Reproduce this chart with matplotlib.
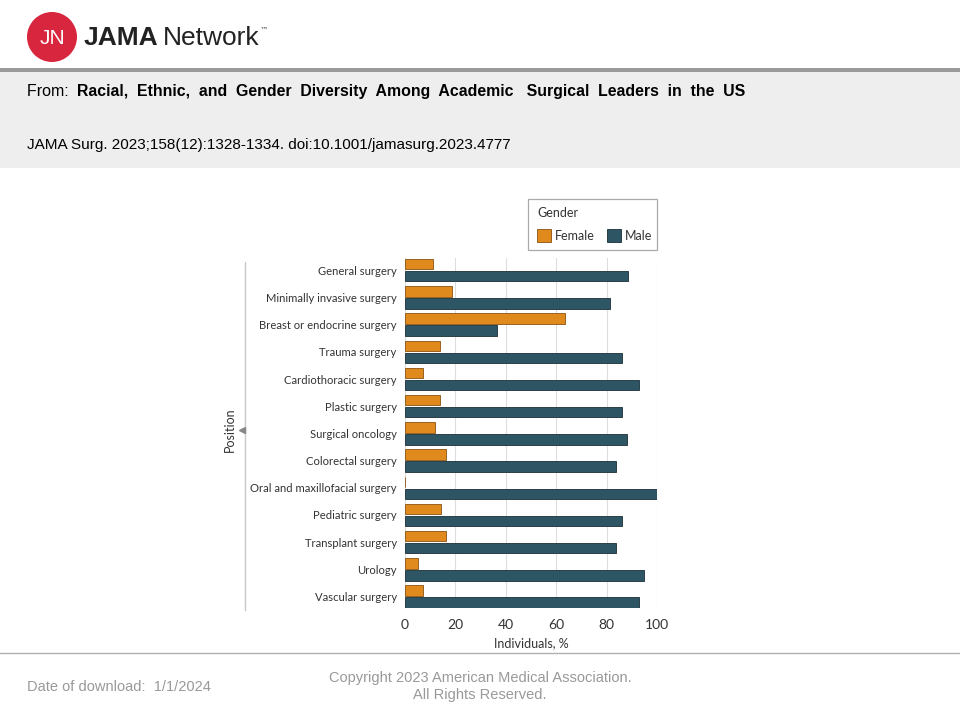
import matplotlib
matplotlib.use("Agg")
import matplotlib.pyplot as plt
from matplotlib.patches import Circle, Rectangle
import numpy as np

# data (percent of individuals)
positions = ["General surgery", "Minimally invasive surgery", "Breast or endocrine surgery",
             "Trauma surgery", "Cardiothoracic surgery", "Plastic surgery", "Surgical oncology",
             "Colorectal surgery", "Oral and maxillofacial surgery", "Pediatric surgery",
             "Transplant surgery", "Urology", "Vascular surgery"]
female = [11.1, 18.7, 63.5, 13.9, 7.1, 13.9, 11.9, 16.3, 0.0, 14.4, 16.3, 5.2, 7.0]
male = [88.5, 81.3, 36.5, 86.1, 92.9, 86.1, 88.1, 83.7, 100.0, 86.0, 83.7, 94.8, 93.0]
xticks = [0, 20, 40, 60, 80, 100]

FEM_C, FEM_E = "#e08a1e", "#8a5210"
MAL_C, MAL_E = "#2e5563", "#1a2f38"
TXT = "#333333"
CF = "Lato"  # chart font

W, H = 960, 720
fig = plt.figure(figsize=(9.6, 7.2), dpi=100)

def px(x, y):
    # pixel coords (top-left origin) -> figure fraction
    return x / W, 1 - y / H

# ---- header ----
bg = fig.add_axes([0, 0, 1, 1], zorder=0)
bg.set_xlim(0, W)
bg.set_ylim(H, 0)
bg.axis("off")
bg.add_patch(Rectangle((0, 72), W, 96, color="#eeeeee", lw=0))
bg.add_patch(Rectangle((0, 68), W, 4, color="#9a9a9a", lw=0))
bg.add_patch(Circle((52, 37), 25, color="#d7263d", lw=0))
bg.text(52, 38, "JN", color="white", fontsize=15, ha="center", va="center",
        family="Liberation Sans")
bg.text(84, 38, "JAMA", fontsize=19, fontweight="bold", ha="left", va="center",
        family="Liberation Sans", color="#222222")
bg.text(163, 38, "Network", fontsize=19, ha="left", va="center",
        family="Liberation Sans", color="#222222")
bg.text(260, 30, "™", fontsize=6, ha="left", va="center", family="DejaVu Sans", color="#444444")

bg.text(27, 96, "From: ", fontsize=11.5, ha="left", va="baseline", family="Liberation Sans")
bg.text(77, 96, "Racial,  Ethnic,  and  Gender  Diversity  Among  Academic   Surgical  Leaders  in  the  US",
        fontsize=11.4, fontweight="bold", ha="left", va="baseline", family="Liberation Sans")
bg.text(27, 145, "JAMA Surg. 2023;158(12):1328-1334. doi:10.1001/jamasurg.2023.4777",
        fontsize=11, ha="left", va="center", family="Liberation Sans")

# ---- footer ----
bg.plot([0, W], [653, 653], color="#b0b0b0", lw=1)
bg.text(27, 687, "Date of download:  1/1/2024", fontsize=10.5, ha="left", va="center",
        family="Liberation Sans", color="#999999")
bg.text(480, 678, "Copyright 2023 American Medical Association.", fontsize=10.5, ha="center",
        va="center", family="Liberation Sans", color="#999999")
bg.text(480, 695, "All Rights Reserved.", fontsize=10.5, ha="center", va="center",
        family="Liberation Sans", color="#999999")

# "Position" bracket on the left
bg.plot([245, 245], [262, 610], color="#c8c8c8", lw=1)
bg.plot([242], [430], marker="<", color="#888888", ms=4)
bg.text(230, 430, "Position", rotation=90, fontsize=9, ha="center", va="center",
        family=CF, color=TXT)

# legend box (drawn by hand to match the layout)
bg.add_patch(Rectangle((528, 199), 129, 51, facecolor="white", edgecolor="#aaaaaa", lw=0.9))
bg.text(537, 213, "Gender", fontsize=9, ha="left", va="center", family=CF, color=TXT)
bg.add_patch(Rectangle((537, 229), 14, 13, facecolor=FEM_C, edgecolor=FEM_E, lw=0.6))
bg.text(555, 235.5, "Female", fontsize=9, ha="left", va="center", family=CF, color=TXT)
bg.add_patch(Rectangle((607, 229), 14, 13, facecolor=MAL_C, edgecolor=MAL_E, lw=0.6))
bg.text(625, 235.5, "Male", fontsize=9, ha="left", va="center", family=CF, color=TXT)

# ---- chart ----
x0, y0 = px(405, 608)
x1, y1 = px(657, 258)
ax = fig.add_axes([x0, y0, x1 - x0, y1 - y0], zorder=1)
ax.patch.set_alpha(0)

y = np.arange(len(positions))
bh = 0.38
ax.barh(y - 0.22, female, height=bh, color=FEM_C, edgecolor=FEM_E, lw=0.6, zorder=3)
ax.barh(y + 0.22, male, height=bh, color=MAL_C, edgecolor=MAL_E, lw=0.6, zorder=3)

ax.set_xlim(0, 100)
ax.set_ylim(12.42, -0.45)
ax.set_xticks(xticks)
ax.set_yticks(y)
ax.set_yticklabels(positions)
for s in ax.spines.values():
    s.set_visible(False)
ax.grid(axis="x", color="#dddddd", lw=0.8, zorder=0)
ax.tick_params(length=0, labelcolor=TXT)
ax.tick_params(axis="y", labelsize=8.1, pad=6)
ax.tick_params(axis="x", labelsize=10, pad=8)
for t in ax.get_xticklabels() + ax.get_yticklabels():
    t.set_family(CF)
ax.set_xlabel("Individuals, %", fontsize=9, family=CF, color=TXT, labelpad=4)

fig.savefig("out.png", dpi=100)
